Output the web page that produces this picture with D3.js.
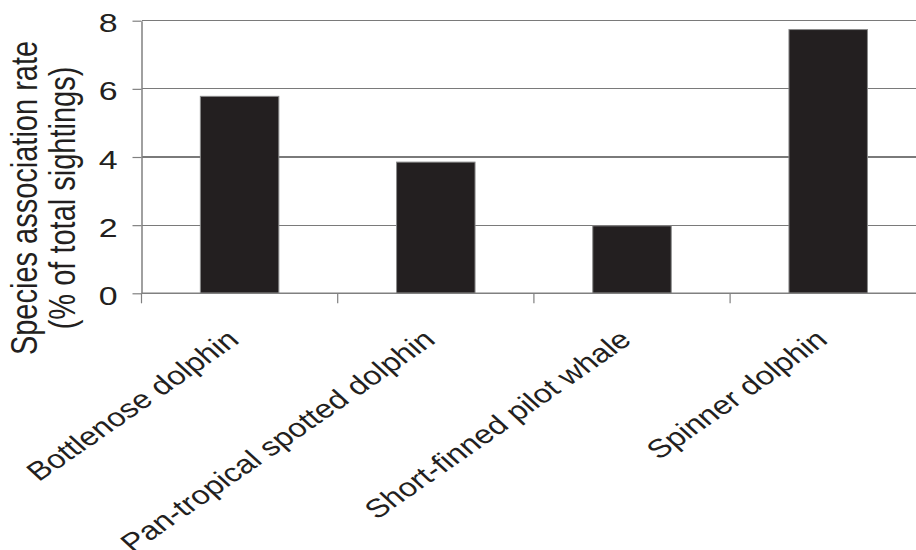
<!DOCTYPE html>
<html>
<head>
<meta charset="utf-8">
<script src="https://cdn.jsdelivr.net/npm/d3@7/dist/d3.min.js"></script>
<style>
  html, body { margin: 0; padding: 0; background: #ffffff; }
  svg { display: block; }
  text { font-family: "Liberation Sans", Arial, Helvetica, sans-serif; fill: #231f20; }
</style>
</head>
<body>
<svg id="chart" width="916" height="550"></svg>
<script>
// ---- data ----
const categories = ["Bottlenose dolphin", "Pan-tropical spotted dolphin", "Short-finned pilot whale", "Spinner dolphin"];
const values = [5.78, 3.85, 1.98, 7.74];
const yTicks = [0, 2, 4, 6, 8];
const yTitleLines = ["Species association rate", "(% of total sightings)"];

// ---- layout ----
const plot = { left: 141.5, right: 926.3, top: 20.7, bottom: 293.3 };
const stretch = 1.28;       // horizontal stretch of the original text
const gridColor = "#7a7a7a";
const axisColor = "#808080";
const barColor = "#231f20";

const svg = d3.select("#chart");

const x = d3.scaleBand().domain(categories).range([plot.left, plot.right]).padding(0);
const y = d3.scaleLinear().domain([0, 8]).range([plot.bottom, plot.top]);

// gridlines
svg.append("g")
  .selectAll("line")
  .data(yTicks.filter(d => d > 0))
  .join("line")
  .attr("x1", plot.left).attr("x2", plot.right)
  .attr("y1", d => y(d)).attr("y2", d => y(d))
  .attr("stroke", gridColor).attr("stroke-width", 1.2)
  .attr("shape-rendering", "crispEdges");

// bars
const barFrac = 0.40;
svg.append("g")
  .selectAll("rect")
  .data(categories.map((c, i) => ({ c, v: values[i] })))
  .join("rect")
  .attr("x", d => x(d.c) + x.bandwidth() * (1 - barFrac) / 2)
  .attr("width", x.bandwidth() * barFrac)
  .attr("y", d => y(d.v))
  .attr("height", d => y(0) - y(d.v))
  .attr("fill", barColor)
  .attr("stroke", "#8a8a8a")
  .attr("stroke-width", 1);

// y axis
const yAxis = svg.append("g")
  .attr("transform", `translate(${plot.left},0)`)
  .call(d3.axisLeft(y).tickValues(yTicks).tickSize(9).tickSizeOuter(0).tickFormat(d3.format("d")));
yAxis.select(".domain").attr("stroke", axisColor).attr("stroke-width", 1.5);
yAxis.selectAll(".tick line").attr("stroke", axisColor).attr("stroke-width", 1.2);
yAxis.selectAll(".tick text")
  .attr("x", null)
  .attr("dy", "0.36em")
  .attr("transform", `translate(-24,1.5) scale(${stretch},1)`)
  .style("font-size", "26.5px")
  .style("font-family", "'Liberation Sans', Arial, sans-serif")
  .attr("fill", "#231f20");

// x axis (category boundaries as ticks)
const boundaries = categories.map(c => x(c)).concat([plot.right]);
const xAxisG = svg.append("g");
xAxisG.append("line")
  .attr("x1", plot.left).attr("x2", plot.right)
  .attr("y1", y(0)).attr("y2", y(0))
  .attr("stroke", axisColor).attr("stroke-width", 1.5);
xAxisG.selectAll("line.tk")
  .data(boundaries)
  .join("line")
  .attr("class", "tk")
  .attr("x1", d => d).attr("x2", d => d)
  .attr("y1", y(0)).attr("y2", y(0) + 10)
  .attr("stroke", axisColor).attr("stroke-width", 1.2);

// x labels (rotated)
svg.append("g")
  .selectAll("text")
  .data(categories)
  .join("text")
  .attr("transform", d => `translate(${x(d) + x.bandwidth() / 2 + 1},342) scale(1.25,1) rotate(-41)`)
  .attr("text-anchor", "end")
  .style("font-size", "26px")
  .text(d => d);

// y title
const titleX = [37, 75];
svg.append("g")
  .selectAll("text")
  .data(yTitleLines)
  .join("text")
  .attr("transform", (d, i) => `translate(${titleX[i]},198) scale(${stretch},1) rotate(-90)`)
  .attr("text-anchor", "middle")
  .style("font-size", "29px")
  .text(d => d);
</script>
</body>
</html>
